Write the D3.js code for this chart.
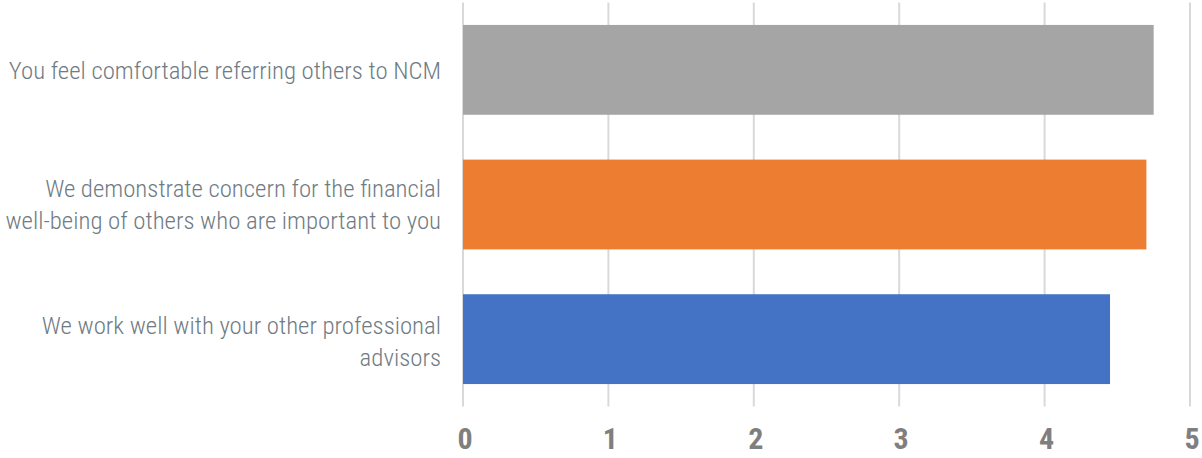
<!DOCTYPE html>
<html><head><meta charset="utf-8">
<script src="https://cdn.jsdelivr.net/npm/d3@7"></script>
<style>
body{margin:0;background:#fff;}
svg{display:block;}
.cat{font-family:"Roboto Condensed","Roboto",sans-serif;font-stretch:condensed;font-weight:300;font-size:24.8px;fill:#707b84;}
.tick text{font-family:"Roboto Condensed","Roboto",sans-serif;font-stretch:condensed;font-weight:bold;font-size:30px;fill:#7f7f7f;}
</style></head>
<body>
<svg id="c" width="1202" height="458"></svg>
<script>
const categories = [
  ["You feel comfortable referring others to NCM"],
  ["We demonstrate concern for the financial", "well-being of others who are important to you"],
  ["We work well with your other professional", "advisors"]
];
const values = [4.75, 4.70, 4.45];
const colors = ["#a5a5a5", "#ed7d31", "#4472c4"];
const tickValues = [0, 1, 2, 3, 4, 5];

const svg = d3.select("#c");
const x = d3.scaleLinear().domain([0, 5]).range([463, 1190]);
const y = d3.scaleBand().domain(d3.range(categories.length)).range([2.5, 406.5]).paddingInner(0.333).paddingOuter(0.1667);

svg.append("g").selectAll("line").data(tickValues).join("line")
  .attr("x1", d => x(d)).attr("x2", d => x(d))
  .attr("y1", 2.5).attr("y2", 406.5)
  .attr("stroke", "#d9d9d9").attr("stroke-width", 2);

svg.append("g").selectAll("rect").data(values).join("rect")
  .attr("x", x(0)).attr("y", (d, i) => y(i))
  .attr("width", d => x(d) - x(0)).attr("height", y.bandwidth())
  .attr("fill", (d, i) => colors[i]);

const ax = svg.append("g").attr("transform", "translate(0,449)")
  .call(d3.axisBottom(x).tickValues(tickValues).tickFormat(d3.format("d")).tickSize(0).tickPadding(0));
ax.select(".domain").remove();
ax.selectAll(".tick text").attr("dy", null).attr("y", 0).attr("x", 1.5);

const lh = 32.5;
const lab = svg.append("g").selectAll("text").data(categories).join("text")
  .attr("class", "cat").attr("text-anchor", "end")
  .attr("transform", (d, i) => `translate(441,${y(i) + y.bandwidth() / 2 - (d.length - 1) * lh / 2 + (i === 2 ? 2 : 0)})`);
lab.selectAll("tspan").data(d => d).join("tspan")
  .attr("x", 0).attr("dy", (d, i) => i === 0 ? "0.35em" : lh).text(d => d);
</script>
</body></html>
